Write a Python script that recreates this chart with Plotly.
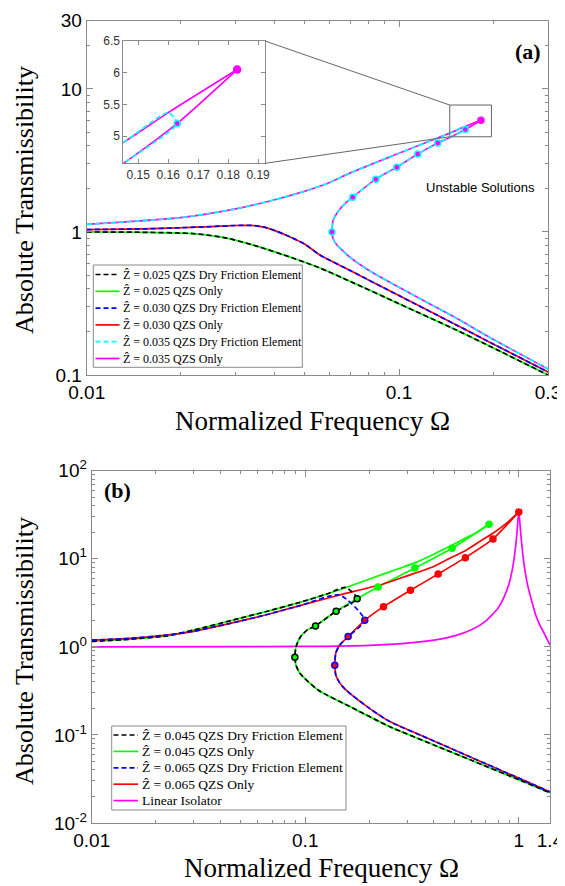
import math
import plotly.graph_objects as go

# ---------------- Panel (a) data ----------------
A_Z025_OMEGA = [0.01, 0.015, 0.0219, 0.0281, 0.0359, 0.0457, 0.0558, 0.07, 0.1, 0.15, 0.2, 0.3]
A_Z025_T = [1.0, 0.995, 0.975, 0.906, 0.783, 0.657, 0.56, 0.45, 0.315, 0.21, 0.155, 0.1]

A_Z030_OMEGA = [0.01, 0.015, 0.02, 0.025, 0.03, 0.034, 0.037, 0.0406, 0.045, 0.05, 0.0558, 0.07, 0.1, 0.15, 0.2, 0.3]
A_Z030_T = [1.04, 1.05, 1.07, 1.09, 1.11, 1.11, 1.08, 1.01, 0.92, 0.82, 0.69, 0.536, 0.359, 0.228, 0.165, 0.105]

# Z = 0.035: upper stable branch, unstable branch, lower stable branch
A_Z035_UP_OMEGA = [0.01, 0.02, 0.03, 0.04, 0.05, 0.06, 0.0696, 0.1, 0.1454, 0.16, 0.183]
A_Z035_UP_T = [1.13, 1.26, 1.45, 1.68, 1.93, 2.22, 2.58, 3.55, 4.91, 5.37, 6.05]
A_Z035_UNST_OMEGA = [0.061, 0.0615, 0.064, 0.067, 0.0711, 0.0843, 0.0984, 0.1148, 0.1331, 0.146, 0.163, 0.183]
A_Z035_UNST_T = [1.0, 1.2, 1.4, 1.57, 1.75, 2.34, 2.84, 3.51, 4.19, 4.6, 5.2, 6.05]
A_Z035_LOW_OMEGA = [0.061, 0.0615, 0.063, 0.066, 0.07, 0.08, 0.1, 0.15, 0.2, 0.3]
A_Z035_LOW_T = [1.0, 0.9, 0.82, 0.74, 0.66, 0.54, 0.41, 0.255, 0.178, 0.11]
A_Z035_DF_JUMP_OMEGA = 0.160   # end of dry friction upper branch
A_Z035_MARK_OMEGA = [0.061, 0.0711, 0.0843, 0.0984, 0.1148, 0.1331, 0.163]
A_Z035_MARK_T = [1.0, 1.75, 2.34, 2.84, 3.51, 4.19, 5.2]
A_Z035_PEAK = (0.183, 6.05)

A_X_TICKS = [0.01, 0.1, 0.3]
A_X_TICKTEXT = ["0.01", "0.1", "0.3"]
A_Y_TICKS = [0.1, 1, 10, 30]
A_Y_TICKTEXT = ["0.1", "1", "10", "30"]
A_X_MINOR = [0.02, 0.03, 0.04, 0.05, 0.06, 0.07, 0.08, 0.09, 0.2]
A_Y_MINOR = [0.2, 0.3, 0.4, 0.5, 0.6, 0.7, 0.8, 0.9, 2, 3, 4, 5, 6, 7, 8, 9, 20]

INSET_X_TICKS = [0.15, 0.16, 0.17, 0.18, 0.19]
INSET_Y_TICKS = [5, 5.5, 6, 6.5]
INSET_X_RANGE = [0.145, 0.1923]
INSET_Y_RANGE = [4.57, 6.5]
ZOOM_BOX_OMEGA = [0.1454, 0.1977]
ZOOM_BOX_T = [4.63, 7.72]

A_LEGEND = [
    ("Ẑ = 0.025 QZS Dry Friction Element", "black", True),
    ("Ẑ = 0.025 QZS Only", "#00ff00", False),
    ("Ẑ = 0.030 QZS Dry Friction Element", "#0000ff", True),
    ("Ẑ = 0.030 QZS Only", "#ff0000", False),
    ("Ẑ = 0.035 QZS Dry Friction Element", "#00ffff", True),
    ("Ẑ = 0.035 QZS Only", "#ff00ff", False),
]

# ---------------- Panel (b) data ----------------
B_Z045_UP_OMEGA = [0.01, 0.015, 0.0224, 0.03, 0.046, 0.065, 0.0944, 0.125, 0.1588, 0.2, 0.277, 0.33, 0.397, 0.47, 0.569, 0.65, 0.7255]
B_Z045_UP_T = [1.15, 1.22, 1.33, 1.55, 2.02, 2.5, 3.2, 3.95, 4.82, 5.9, 7.8, 9.1, 11.2, 13.7, 17.4, 20.6, 24.7]
B_Z045_UNST_OMEGA = [0.0894, 0.0905, 0.095, 0.102, 0.1117, 0.1395, 0.175, 0.2193, 0.326, 0.487, 0.7255]
B_Z045_UNST_T = [0.762, 1.0, 1.3, 1.55, 1.73, 2.54, 3.52, 4.78, 7.86, 13.2, 24.7]
B_Z045_LOW_OMEGA = [0.0894, 0.0905, 0.0944, 0.1148, 0.1617, 0.249, 0.4, 0.6, 1.0, 1.4]
B_Z045_LOW_T = [0.762, 0.62, 0.5, 0.324, 0.21, 0.124, 0.077, 0.0515, 0.031, 0.022]
B_Z045_DF_JUMP = (0.155, 4.72)
B_Z045_EDGE_MARK_OMEGA = [0.0894, 0.1117, 0.1395, 0.175]
B_Z045_EDGE_MARK_T = [0.762, 1.73, 2.54, 3.52]
B_Z045_MARK_OMEGA = [0.2193, 0.326, 0.487, 0.7255]
B_Z045_MARK_T = [4.78, 7.86, 13.2, 24.7]

B_Z065_UP_OMEGA = [0.01, 0.015, 0.0224, 0.03, 0.046, 0.065, 0.0944, 0.145, 0.2315, 0.3, 0.397, 0.47, 0.569, 0.65, 0.757, 0.88, 1.0]
B_Z065_UP_T = [1.19, 1.25, 1.36, 1.5, 1.88, 2.3, 2.94, 3.88, 5.17, 6.4, 8.13, 10.0, 12.6, 15.5, 19.5, 25.5, 34]
B_Z065_UNST_OMEGA = [0.1375, 0.139, 0.145, 0.1588, 0.19, 0.2325, 0.311, 0.419, 0.562, 0.757, 1.0]
B_Z065_UNST_T = [0.618, 0.85, 1.05, 1.31, 2.0, 2.86, 4.39, 6.72, 10.3, 16.8, 34]
B_Z065_LOW_OMEGA = [0.1375, 0.139, 0.145, 0.155, 0.2, 0.249, 0.4, 0.6, 1.0, 1.4]
B_Z065_LOW_T = [0.618, 0.48, 0.39, 0.324, 0.2, 0.1416, 0.0855, 0.0555, 0.0323, 0.0225]
B_Z065_DF_JUMP = (0.145, 3.88)
B_Z065_EDGE_MARK_OMEGA = [0.1375, 0.1588, 0.19]
B_Z065_EDGE_MARK_T = [0.618, 1.31, 2.0]
B_Z065_MARK_OMEGA = [0.2325, 0.311, 0.419, 0.562, 0.757, 1.0]
B_Z065_MARK_T = [2.86, 4.39, 6.72, 10.3, 16.8, 34]

B_LIN_OMEGA = [0.01, 0.1, 0.2, 0.3, 0.4, 0.5, 0.6, 0.7, 0.8, 0.85, 0.9, 0.93, 0.95, 0.97, 0.98, 0.99, 1.0,
               1.01, 1.02, 1.03, 1.05, 1.08, 1.1, 1.15, 1.2, 1.25, 1.3, 1.35, 1.4]
B_LIN_T = [1.0, 1.01, 1.04, 1.10, 1.19, 1.33, 1.56, 1.96, 2.77, 3.6, 5.2, 7.3, 9.9, 15, 19.5, 27, 34,
           27, 20, 15.5, 10, 6.3, 5.0, 3.3, 2.3, 1.8, 1.5, 1.25, 1.05]

B_X_TICKS = [0.01, 0.1, 1, 1.4]
B_X_TICKTEXT = ["0.01", "0.1", "1", "1.4"]
B_Y_TICKS = [0.01, 0.1, 1, 10, 100]
B_Y_TICKTEXT = ["10<sup>-2</sup>", "10<sup>-1</sup>", "10<sup>0</sup>", "10<sup>1</sup>", "10<sup>2</sup>"]
B_X_MINOR = [0.02, 0.03, 0.04, 0.05, 0.06, 0.07, 0.08, 0.09, 0.2, 0.3, 0.4, 0.5, 0.6, 0.7, 0.8, 0.9]
B_Y_MINOR = [m * 10 ** e for e in (-2, -1, 0, 1) for m in range(2, 10)]

B_LEGEND = [
    ("Ẑ = 0.045 QZS Dry Friction Element", "black", True),
    ("Ẑ = 0.045 QZS Only", "#00ff00", False),
    ("Ẑ = 0.065 QZS Dry Friction Element", "#0000ff", True),
    ("Ẑ = 0.065 QZS Only", "#ff0000", False),
    ("Linear Isolator", "#ff00ff", False),
]

# ---------------- style ----------------
OFF = 8                      # default page margin around the plot div
W, H = 565 - OFF, 886 - OFF  # figure size so the page is filled exactly
SERIF = "Liberation Serif, Times New Roman, serif"
SANS = "Liberation Sans, Arial, sans-serif"
AX_COLOR = "#8a8a8a"
DASH = "5px,3px"
LW = 1.7


def px(x):
    return (x - OFF) / W


def py(y):
    return 1 - (y - OFF) / H


A_XDOM = [px(86.7), px(548)]
A_YDOM = [py(375), py(20.7)]
B_XDOM = [px(91.7), px(550)]
B_YDOM = [py(823), py(470.7)]
IN_XDOM = [px(123.3), px(265)]
IN_YDOM = [py(163.3), py(41)]
A_XR = [0.01, 0.3]
A_YR = [0.1, 30]

fig = go.Figure()


def add_line(x, y, color, dash=None, xa="x", ya="y", width=LW):
    fig.add_trace(go.Scatter(
        x=x, y=y, mode="lines", xaxis=xa, yaxis=ya, showlegend=False,
        line=dict(color=color, width=width, dash=dash, shape="spline", smoothing=0.6),
        hoverinfo="skip"))


def add_markers(x, y, fill, edge, size, xa="x", ya="y"):
    fig.add_trace(go.Scatter(
        x=x, y=y, mode="markers", xaxis=xa, yaxis=ya, showlegend=False,
        marker=dict(color=fill, size=size, line=dict(color=edge, width=1.5)),
        hoverinfo="skip"))


# ---- panel (a) ----
add_line(A_Z025_OMEGA, A_Z025_T, "#00ff00")
add_line(A_Z030_OMEGA, A_Z030_T, "#ff0000")
add_line(A_Z035_UP_OMEGA, A_Z035_UP_T, "#ff00ff")
add_line(A_Z035_UNST_OMEGA, A_Z035_UNST_T, "#ff00ff")
add_line(A_Z035_LOW_OMEGA, A_Z035_LOW_T, "#ff00ff")

add_line(A_Z025_OMEGA, A_Z025_T, "black", dash=DASH)
add_line(A_Z030_OMEGA, A_Z030_T, "#0000ff", dash=DASH)
# dry friction Z=0.035: upper branch to jump, jump down, unstable branch back to turning point, lower branch
up_idx = [i for i, w in enumerate(A_Z035_UP_OMEGA) if w <= A_Z035_DF_JUMP_OMEGA]
un_idx = [i for i, w in enumerate(A_Z035_UNST_OMEGA) if w <= A_Z035_MARK_OMEGA[-1]]
df_x = [A_Z035_UP_OMEGA[i] for i in up_idx] + [A_Z035_UNST_OMEGA[i] for i in reversed(un_idx)] + A_Z035_LOW_OMEGA[1:]
df_y = [A_Z035_UP_T[i] for i in up_idx] + [A_Z035_UNST_T[i] for i in reversed(un_idx)] + A_Z035_LOW_T[1:]
add_line(df_x, df_y, "#00ffff", dash=DASH)
add_markers(A_Z035_MARK_OMEGA, A_Z035_MARK_T, "#ff00ff", "#00ffff", 6)
add_markers([A_Z035_PEAK[0]], [A_Z035_PEAK[1]], "#ff00ff", "#ff00ff", 6)

# ---- inset ----
add_line(A_Z035_UP_OMEGA, A_Z035_UP_T, "#ff00ff", xa="x3", ya="y3")
add_line(A_Z035_UNST_OMEGA, A_Z035_UNST_T, "#ff00ff", xa="x3", ya="y3")
add_line(df_x, df_y, "#00ffff", dash=DASH, xa="x3", ya="y3")
add_markers(A_Z035_MARK_OMEGA, A_Z035_MARK_T, "#ff00ff", "#00ffff", 6, xa="x3", ya="y3")
add_markers([A_Z035_PEAK[0]], [A_Z035_PEAK[1]], "#ff00ff", "#ff00ff", 7, xa="x3", ya="y3")

# ---- panel (b) ----
add_line(B_LIN_OMEGA, B_LIN_T, "#ff00ff", xa="x2", ya="y2")
add_line(B_Z045_UP_OMEGA, B_Z045_UP_T, "#00ff00", xa="x2", ya="y2")
add_line(B_Z045_UNST_OMEGA, B_Z045_UNST_T, "#00ff00", xa="x2", ya="y2")
add_line(B_Z045_LOW_OMEGA, B_Z045_LOW_T, "#00ff00", xa="x2", ya="y2")
add_line(B_Z065_UP_OMEGA, B_Z065_UP_T, "#ff0000", xa="x2", ya="y2")
add_line(B_Z065_UNST_OMEGA, B_Z065_UNST_T, "#ff0000", xa="x2", ya="y2")
add_line(B_Z065_LOW_OMEGA, B_Z065_LOW_T, "#ff0000", xa="x2", ya="y2")


def df_path(up_w, up_t, jump, un_w, un_t, edge_w, low_w, low_t):
    xs = [w for w in up_w if w < jump[0]] + [jump[0]]
    ys = [t for w, t in zip(up_w, up_t) if w < jump[0]] + [jump[1]]
    seg = [(w, t) for w, t in zip(un_w, un_t) if w <= edge_w[-1]]
    xs += [w for w, _ in reversed(seg)] + low_w[1:]
    ys += [t for _, t in reversed(seg)] + low_t[1:]
    return xs, ys


bx, by = df_path(B_Z045_UP_OMEGA, B_Z045_UP_T, B_Z045_DF_JUMP, B_Z045_UNST_OMEGA, B_Z045_UNST_T,
                 B_Z045_EDGE_MARK_OMEGA, B_Z045_LOW_OMEGA, B_Z045_LOW_T)
add_line(bx, by, "black", dash=DASH, xa="x2", ya="y2")
bx, by = df_path(B_Z065_UP_OMEGA, B_Z065_UP_T, B_Z065_DF_JUMP, B_Z065_UNST_OMEGA, B_Z065_UNST_T,
                 B_Z065_EDGE_MARK_OMEGA, B_Z065_LOW_OMEGA, B_Z065_LOW_T)
add_line(bx, by, "#0000ff", dash=DASH, xa="x2", ya="y2")

add_markers(B_Z045_EDGE_MARK_OMEGA, B_Z045_EDGE_MARK_T, "#00ff00", "black", 6, xa="x2", ya="y2")
add_markers(B_Z045_MARK_OMEGA, B_Z045_MARK_T, "#00ff00", "#00ff00", 6, xa="x2", ya="y2")
add_markers(B_Z065_EDGE_MARK_OMEGA, B_Z065_EDGE_MARK_T, "#ff0000", "#0000ff", 6, xa="x2", ya="y2")
add_markers(B_Z065_MARK_OMEGA, B_Z065_MARK_T, "#ff0000", "#ff0000", 6, xa="x2", ya="y2")


def log_axis(dom, rng, tickvals, ticktext, minor_vals, anchor):
    return dict(
        type="log", domain=dom, range=[math.log10(rng[0]), math.log10(rng[1])], anchor=anchor,
        automargin=False,
        tickmode="array", tickvals=tickvals, ticktext=ticktext,
        ticks="inside", ticklen=6, tickcolor=AX_COLOR, tickwidth=1,
        showline=True, linecolor=AX_COLOR, linewidth=1, mirror="allticks",
        showgrid=False, zeroline=False,
        tickfont=dict(family=SANS, size=19, color="black"),
        minor=dict(tickmode="array", tickvals=minor_vals, ticks="inside", ticklen=3,
                   tickcolor=AX_COLOR, showgrid=False),
    )


inset_common = dict(ticks="inside", ticklen=4, tickcolor=AX_COLOR, showline=True, linecolor=AX_COLOR,
                    mirror="allticks", showgrid=False, zeroline=False, automargin=False,
                    tickfont=dict(family=SANS, size=12, color="#333333"))

fig.update_layout(
    width=W, height=H, margin=dict(l=0, r=0, t=0, b=0, autoexpand=False),
    plot_bgcolor="white", paper_bgcolor="white", showlegend=False,
    xaxis=log_axis(A_XDOM, A_XR, A_X_TICKS, A_X_TICKTEXT, A_X_MINOR, "y"),
    yaxis=log_axis(A_YDOM, A_YR, A_Y_TICKS, A_Y_TICKTEXT, A_Y_MINOR, "x"),
    xaxis2=log_axis(B_XDOM, [0.01, 1.4], B_X_TICKS, B_X_TICKTEXT, B_X_MINOR, "y2"),
    yaxis2=log_axis(B_YDOM, [0.01, 100], B_Y_TICKS, B_Y_TICKTEXT, B_Y_MINOR, "x2"),
    xaxis3=dict(domain=IN_XDOM, range=INSET_X_RANGE, anchor="y3", tickvals=INSET_X_TICKS, **inset_common),
    yaxis3=dict(domain=IN_YDOM, range=INSET_Y_RANGE, anchor="x3", tickvals=INSET_Y_TICKS, **inset_common),
)


def paper_x(w, dom, rng):
    return dom[0] + (math.log10(w) - math.log10(rng[0])) / (math.log10(rng[1]) - math.log10(rng[0])) * (dom[1] - dom[0])


def paper_y(t, dom, rng):
    return dom[0] + (math.log10(t) - math.log10(rng[0])) / (math.log10(rng[1]) - math.log10(rng[0])) * (dom[1] - dom[0])


bx0, bx1 = paper_x(ZOOM_BOX_OMEGA[0], A_XDOM, A_XR), paper_x(ZOOM_BOX_OMEGA[1], A_XDOM, A_XR)
by0, by1 = paper_y(ZOOM_BOX_T[0], A_YDOM, A_YR), paper_y(ZOOM_BOX_T[1], A_YDOM, A_YR)
shape_line = dict(color="#666666", width=1)
fig.add_shape(type="rect", xref="paper", yref="paper", x0=bx0, x1=bx1, y0=by0, y1=by1, line=shape_line)
fig.add_shape(type="line", xref="paper", yref="paper", x0=IN_XDOM[1], y0=IN_YDOM[1], x1=bx0, y1=by1, line=shape_line)
fig.add_shape(type="line", xref="paper", yref="paper", x0=IN_XDOM[1], y0=IN_YDOM[0], x1=bx0, y1=by0, line=shape_line)


def draw_legend(entries, box, first_y, step, sample_x, text_x, size):
    fig.add_shape(type="rect", xref="paper", yref="paper", x0=px(box[0]), x1=px(box[1]),
                  y0=py(box[3]), y1=py(box[2]), fillcolor="white", line=dict(color=AX_COLOR, width=1))
    for i, (label, color, dashed) in enumerate(entries):
        yy = first_y + i * step
        fig.add_shape(type="line", xref="paper", yref="paper", x0=px(sample_x[0]), x1=px(sample_x[1]),
                      y0=py(yy), y1=py(yy), line=dict(color=color, width=LW, dash=DASH if dashed else "solid"))
        fig.add_annotation(xref="paper", yref="paper", x=px(text_x), y=py(yy), text=label, showarrow=False,
                           xanchor="left", yanchor="middle", font=dict(family=SERIF, size=size, color="black"))


draw_legend(A_LEGEND, (93.3, 302.3, 265, 367.3), 274.5, 16.8, (95.5, 119.5), 120.5, 12)
draw_legend(B_LEGEND, (111.7, 346, 726, 810), 735, 16.4, (113.5, 138), 139.5, 13.5)

titles = [
    dict(text="Absolute Transmissibility", x=px(24), y=py(200), textangle=-90, size=26),
    dict(text="Absolute Transmissibility", x=px(24), y=py(651), textangle=-90, size=26),
    dict(text="Normalized Frequency Ω", x=px(312), y=py(421), textangle=0, size=27),
    dict(text="Normalized Frequency Ω", x=px(321), y=py(868), textangle=0, size=27),
]
for t in titles:
    fig.add_annotation(xref="paper", yref="paper", showarrow=False, xanchor="center", yanchor="middle",
                       x=t["x"], y=t["y"], text=t["text"], textangle=t["textangle"],
                       font=dict(family=SERIF, size=t["size"], color="black"))

fig.add_annotation(xref="paper", yref="paper", x=px(528), y=py(51), text="<b>(a)</b>", showarrow=False,
                   xanchor="center", yanchor="middle", font=dict(family=SERIF, size=22, color="black"))
fig.add_annotation(xref="paper", yref="paper", x=px(117), y=py(491), text="<b>(b)</b>", showarrow=False,
                   xanchor="center", yanchor="middle", font=dict(family=SERIF, size=22, color="black"))
fig.add_annotation(xref="x", yref="y", x=math.log10(0.1075), y=math.log10(3.08),
                   text="Unstable Solutions", showarrow=True, arrowhead=2, arrowsize=1, arrowwidth=1,
                   arrowcolor="black", ax=72, ay=25, font=dict(family=SANS, size=13, color="black"))

fig.write_html("out.html")
